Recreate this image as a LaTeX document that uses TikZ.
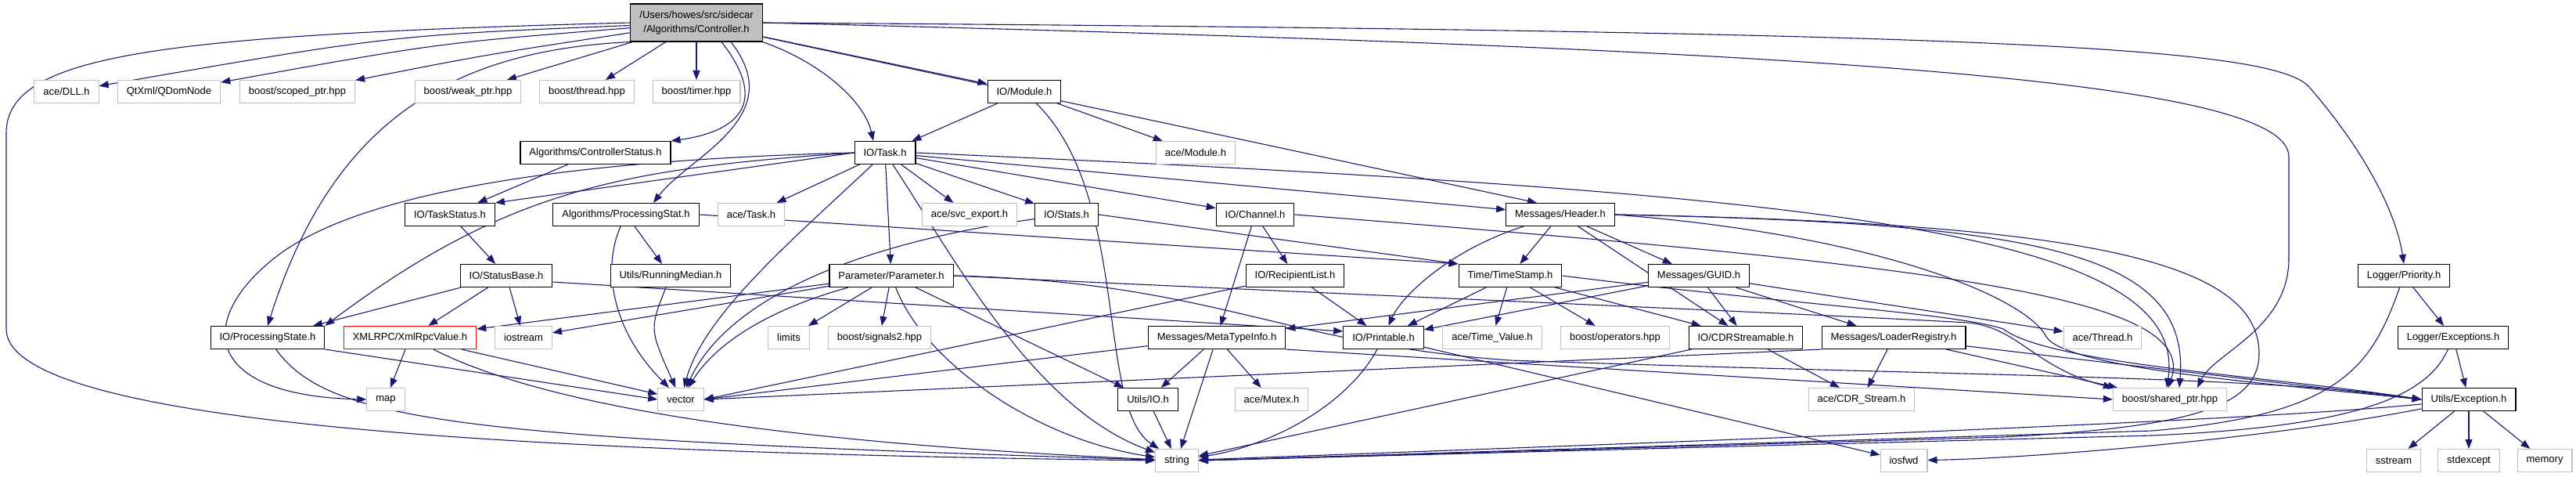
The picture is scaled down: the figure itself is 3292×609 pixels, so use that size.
\documentclass[tikz,border=0pt]{standalone}
\usepackage{fontspec}
\setmainfont{Liberation Sans}
\usetikzlibrary{arrows.meta,backgrounds}
\definecolor{edgec}{HTML}{191970}
\definecolor{extc}{HTML}{BFBFBF}
\definecolor{rootc}{HTML}{BFBFBF}
\begin{document}
\begin{tikzpicture}[x=1pt,y=-1pt,
  box/.style={draw, line width=1.1pt, minimum height=29pt, inner xsep=11.5pt, inner ysep=0pt, font=\fontsize{13}{15}\selectfont, fill=white},
  int/.style={box, draw=black},
  ext/.style={box, draw=extc},
  root/.style={box, draw=black, fill=rootc, minimum height=48pt, align=center, font=\fontsize{13}{18}\selectfont},
  bad/.style={box, draw=red},
  e/.style={draw=edgec, line width=1.1pt, -{Triangle[length=12pt,width=9pt]}}
]
\useasboundingbox (0,0) rectangle (3292,609);
% row 0
\node[root] (C) at (890,29) {/Users/howes/src/sidecar\\/Algorithms/Controller.h};
% row 1
\node[ext] (DLL) at (85,117) {ace/DLL.h};
\node[ext] (QDom) at (216,117) {QtXml/QDomNode};
\node[ext] (scoped) at (380,117) {boost/scoped\_ptr.hpp};
\node[ext] (weak) at (598,117) {boost/weak\_ptr.hpp};
\node[ext] (thread) at (750,117) {boost/thread.hpp};
\node[ext] (timer) at (890,117) {boost/timer.hpp};
\node[int] (Module) at (1309,117) {IO/Module.h};
% row 2
\node[int] (CStatus) at (761,195) {Algorithms/ControllerStatus.h};
\node[int] (Task) at (1131,195) {IO/Task.h};
\node[ext] (aceModule) at (1528,195) {ace/Module.h};
% row 3
\node[int] (TaskStatus) at (575,274) {IO/TaskStatus.h};
\node[int] (PStat) at (800,274) {Algorithms/ProcessingStat.h};
\node[ext] (aceTask) at (960,274) {ace/Task.h};
\node[ext] (svc) at (1239,274) {ace/svc\_export.h};
\node[int] (Stats) at (1363,274) {IO/Stats.h};
\node[int] (Channel) at (1604,274) {IO/Channel.h};
\node[int] (Header) at (1994,274) {Messages/Header.h};
% row 4
\node[int] (StatusBase) at (647,352) {IO/StatusBase.h};
\node[int] (RunMed) at (857,352) {Utils/RunningMedian.h};
\node[int] (Param) at (1139,352) {Parameter/Parameter.h};
\node[int] (Recip) at (1655,352) {IO/RecipientList.h};
\node[int] (TimeStamp) at (1930,352) {Time/TimeStamp.h};
\node[int] (GUID) at (2171,352) {Messages/GUID.h};
\node[int] (Priority) at (3072,352) {Logger/Priority.h};
% row 5
\node[int] (PState) at (342,431) {IO/ProcessingState.h};
\node[bad] (Xml) at (524,431) {XMLRPC/XmlRpcValue.h};
\node[ext] (iostream) at (669,431) {iostream};
\node[ext] (limits) at (1008,431) {limits};
\node[ext] (signals2) at (1124,431) {boost/signals2.hpp};
\node[int] (Meta) at (1555,431) {Messages/MetaTypeInfo.h};
\node[int] (Printable) at (1768,431) {IO/Printable.h};
\node[ext] (TimeValue) at (1907,431) {ace/Time\_Value.h};
\node[ext] (operators) at (2064,431) {boost/operators.hpp};
\node[int] (CDR) at (2231,431) {IO/CDRStreamable.h};
\node[int] (Loader) at (2420,431) {Messages/LoaderRegistry.h};
\node[ext] (aceThread) at (2687,431) {ace/Thread.h};
\node[int] (LExc) at (3135,431) {Logger/Exceptions.h};
% row 6
\node[ext] (map) at (493,510) {map};
\node[ext] (vector) at (870,510) {vector};
\node[int] (UIO) at (1467,510) {Utils/IO.h};
\node[ext] (Mutex) at (1625,510) {ace/Mutex.h};
\node[ext] (CDRStream) at (2379,510) {ace/CDR\_Stream.h};
\node[ext] (shared) at (2773,510) {boost/shared\_ptr.hpp};
\node[int] (UExc) at (3155,510) {Utils/Exception.h};
% row 7
\node[ext] (string) at (1504,588) {string};
\node[ext] (iosfwd) at (2433,588) {iosfwd};
\node[ext] (sstream) at (3059,588) {sstream};
\node[ext] (stdexcept) at (3155,588) {stdexcept};
\node[ext] (memory) at (3252,588) {memory};

\begin{scope}[on background layer]
% Controller
\draw[e] (C.west) .. controls (200,45) and (8,70) .. (8,170) -- (8,420) .. controls (8,545) and (700,578) .. (string.west);
\draw[e] (C) .. controls (500,45) .. (DLL);
\draw[e] (C) .. controls (560,55) .. (QDom);
\draw[e] (C) .. controls (620,70) .. (scoped);
\draw[e] (C) -- (weak);
\draw[e] (C) -- (thread);
\draw[e] (C) -- (timer);
\draw[e] (C.south west) .. controls (560,65) and (420,170) .. (PState.north);
\draw[e] ([xshift=32pt]C.south) .. controls (990,140) and (930,170) .. (CStatus.north east);
\draw[e] ([xshift=44pt]C.south) .. controls (1010,150) and (880,200) .. ([xshift=35pt]PStat.north);
\draw[e] (C.south east) .. controls (1050,80) and (1105,130) .. ([xshift=-15pt]Task.north);
\draw[e] (C) -- (Module);
\draw[e] (C) -- ([xshift=-30pt]Header.north);
\draw[e] (C.east) .. controls (2300,62) and (2925,100) .. (2925,200) -- (2925,330) .. controls (2925,420) and (2830,450) .. ([xshift=35pt]shared.north);
\draw[e] (C.east) .. controls (2550,40) and (2900,60) .. (2950,110) .. controls (3020,190) and (3062,270) .. (Priority.north);
% Module
\draw[e] (Module) -- (Task);
\draw[e] (Module) -- (aceModule);
\draw[e] (Module) .. controls (1445,250) and (1400,520) .. (string);
% ControllerStatus, TaskStatus
\draw[e] (CStatus) -- (TaskStatus);
\draw[e] (TaskStatus) -- (StatusBase);
% Task
\draw[e] (Task.west) -- (TaskStatus.north east);
\draw[e] (Task.west) .. controls (800,215) and (650,240) .. (PState.north east);
\draw[e] (Task.west) .. controls (700,205) and (450,250) .. (350,330) .. controls (250,410) and (260,505) .. (map.west);
\draw[e] (Task) -- (aceTask);
\draw[e] (Task) .. controls (1020,300) and (900,400) .. (vector);
\draw[e] (Task) -- (Param);
\draw[e] (Task) .. controls (1220,330) and (1320,520) .. (string);
\draw[e] (Task) -- (svc);
\draw[e] (Task) -- (Stats);
\draw[e] (Task) -- (Channel);
\draw[e] (Task) -- (Header);
\draw[e] (Task.east) .. controls (2300,245) and (2800,290) .. ([xshift=-4pt]shared.north);
% ProcessingStat, RunningMedian, Stats
\draw[e] (PStat) -- (RunMed);
\draw[e] (PStat) .. controls (770,340) and (780,420) .. (vector);
\draw[e] (PStat.east) -- (TimeStamp.north west);
\draw[e] (RunMed) .. controls (830,420) .. (vector);
\draw[e] (Stats.east) -- (TimeStamp.north west);
\draw[e] (Stats) .. controls (1100,310) and (930,380) .. (vector);
% Channel
\draw[e] (Channel) -- (Recip);
\draw[e] (Channel) -- (Meta);
\draw[e] (Channel.east) .. controls (2500,340) and (2810,380) .. ([xshift=-2pt]shared.north);
% Header
\draw[e] (Header) -- (TimeStamp);
\draw[e] (Header) -- (GUID);
\draw[e] (Header) -- (CDR);
\draw[e] (Header) .. controls (1850,320) and (1790,380) .. (Printable);
\draw[e] (Header.east) .. controls (2600,285) and (2800,320) .. ([xshift=12pt]shared.north);
\draw[e] (Header.east) .. controls (2650,285) and (2885,330) .. (2887,450) .. controls (2888,520) and (2800,545) .. (2560,558) -- (string.east);
\draw[e] (Header.east) .. controls (2400,300) and (2590,380) .. (2615,430) .. controls (2640,470) and (2900,490) .. (UExc.west);
% StatusBase
\draw[e] (StatusBase) -- (PState);
\draw[e] (StatusBase) -- (Xml);
\draw[e] (StatusBase) -- (iostream);
\draw[e] ([yshift=-8pt]StatusBase.east) -- ([yshift=8pt]Printable.west);
% Parameter
\draw[e] (Param) -- (Xml);
\draw[e] (Param) -- (iostream);
\draw[e] (Param) -- (limits);
\draw[e] (Param) -- (signals2);
\draw[e] (Param) .. controls (1000,390) and (920,430) .. (vector);
\draw[e] (Param) -- (UIO);
\draw[e] (Param) .. controls (1180,460) and (1320,560) .. (string);
\draw[e] (Param.east) .. controls (1550,360) and (1640,440) .. (1930,460) .. controls (2500,480) and (2900,480) .. (UExc.west);
\draw[e] (Param.east) .. controls (1700,375) and (2300,400) .. (2515,412) .. controls (2580,418) and (2600,470) .. (shared.north west);
% RecipientList
\draw[e] (Recip) -- (Printable);
\draw[e] (Recip) -- (vector.east);
% TimeStamp
\draw[e] (TimeStamp) -- (Printable);
\draw[e] (TimeStamp) -- (TimeValue);
\draw[e] (TimeStamp) -- (operators);
\draw[e] (TimeStamp) -- (CDR);
\draw[e] (TimeStamp.east) .. controls (2300,390) and (2500,400) .. (2560,420) .. controls (2620,465) and (2900,480) .. (UExc.west);
% GUID
\draw[e] (GUID) -- (Meta);
\draw[e] (GUID) -- (Printable);
\draw[e] (GUID) -- (CDR);
\draw[e] (GUID) -- (Loader);
\draw[e] (GUID) -- (aceThread);
% ProcessingState, XmlRpcValue
\draw[e] (PState.south east) -- (vector.west);
\draw[e] (PState) .. controls (420,540) and (600,560) .. (string);
\draw[e] (Xml) -- (map);
\draw[e] (Xml) -- (vector);
\draw[e] (Xml) .. controls (700,520) and (1000,565) .. (string);
% MetaTypeInfo
\draw[e] (Meta) -- (UIO);
\draw[e] (Meta) -- (Mutex);
\draw[e] (Meta) -- (string);
\draw[e] (Meta) -- (vector.east);
\draw[e] (Meta.south east) -- (shared.west);
\draw[e] (UIO) -- (string);
% Printable, CDRStreamable, LoaderRegistry
\draw[e] (Printable) .. controls (1720,520) and (1620,570) .. (string);
\draw[e] (Printable) -- (iosfwd);
\draw[e] (CDR) -- (string);
\draw[e] (CDR) -- (CDRStream);
\draw[e] (Loader) -- (CDRStream);
\draw[e] (Loader) -- (shared);
\draw[e] (Loader) -- (UExc.west);
\draw[e] (Loader.south west) -- (vector.east);
% Logger
\draw[e] (Priority) -- (LExc);
\draw[e] (Priority) .. controls (3030,470) and (2990,530) .. (2750,550) -- (string.east);
\draw[e] (LExc) -- (UExc);
\draw[e] (LExc) .. controls (3100,510) and (3000,545) .. (2750,556) -- (string.east);
% Utils/Exception
\draw[e] (UExc) -- (sstream);
\draw[e] (UExc) -- (stdexcept);
\draw[e] (UExc) -- (memory);
\draw[e] (UExc) .. controls (2900,535) and (2400,555) .. (string);
\draw[e] (UExc) .. controls (2900,560) and (2600,585) .. (iosfwd);
\end{scope}
\end{tikzpicture}
\end{document}
